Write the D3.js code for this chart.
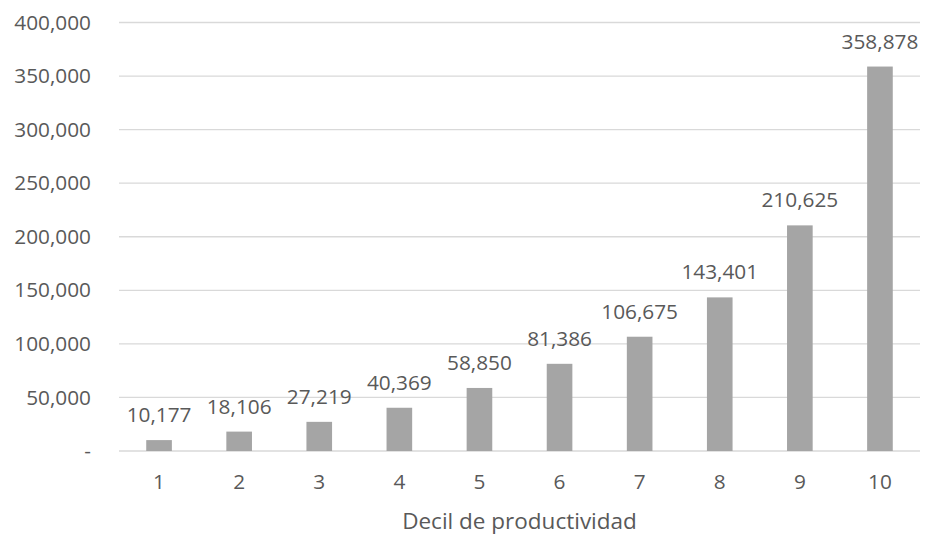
<!DOCTYPE html>
<html>
<head>
<meta charset="utf-8">
<script src="https://cdn.jsdelivr.net/npm/d3@7"></script>
<style>
  body { margin: 0; background: #fff; }
  svg text { font-family: "Open Sans", "Liberation Sans", sans-serif; fill: #595959; }
</style>
</head>
<body>
<svg width="928" height="541"></svg>
<script>
const deciles = ["1", "2", "3", "4", "5", "6", "7", "8", "9", "10"];
const values = [10177, 18106, 27219, 40369, 58850, 81386, 106675, 143401, 210625, 358878];
const yTicks = [0, 50000, 100000, 150000, 200000, 250000, 300000, 350000, 400000];
const xTitle = "Decil de productividad";

const svg = d3.select("svg");
const margin = { top: 22.5, right: 8, bottom: 90, left: 119 };
const innerWidth = 928 - margin.left - margin.right;
const innerHeight = 541 - margin.top - margin.bottom;
const fontSize = "20.8px";

const x = d3.scaleBand().domain(deciles).range([0, innerWidth]).paddingInner(0.68).paddingOuter(0.34);
const y = d3.scaleLinear().domain([0, 400000]).range([innerHeight, 0]);

const fmt = d3.format(",");
const g = svg.append("g").attr("transform", `translate(${margin.left}, ${margin.top})`);

// lineas de la cuadricula
g.selectAll("line.grid")
  .data(yTicks)
  .join("line")
  .attr("x1", 0).attr("x2", innerWidth)
  .attr("y1", d => y(d)).attr("y2", d => y(d))
  .attr("stroke", "#d9d9d9").attr("stroke-width", 1.3);

// eje y
const yAxis = g.append("g")
  .call(d3.axisLeft(y).tickValues(yTicks).tickSize(0).tickPadding(28)
    .tickFormat(d => d === 0 ? "-" : fmt(d)));
yAxis.select(".domain").remove();
yAxis.selectAll("text").style("font-size", fontSize);

// barras
g.selectAll("rect.bar")
  .data(values)
  .join("rect")
  .attr("x", (d, i) => x(deciles[i]))
  .attr("y", d => y(d))
  .attr("width", x.bandwidth())
  .attr("height", d => innerHeight - y(d))
  .attr("fill", "#a5a5a5");

// etiquetas de datos
g.selectAll("text.label")
  .data(values)
  .join("text")
  .attr("x", (d, i) => x(deciles[i]) + x.bandwidth() / 2)
  .attr("y", d => y(d) - 18)
  .attr("text-anchor", "middle")
  .style("font-size", fontSize)
  .text(d => fmt(d));

// eje x
const xAxis = g.append("g")
  .attr("transform", `translate(0, ${innerHeight})`)
  .call(d3.axisBottom(x).tickSize(0).tickPadding(23));
xAxis.select(".domain").remove();
xAxis.selectAll("text").style("font-size", fontSize);

svg.append("text")
  .attr("x", margin.left + innerWidth / 2)
  .attr("y", 529)
  .attr("text-anchor", "middle")
  .style("font-size", "22.5px")
  .text(xTitle);
</script>
</body>
</html>
